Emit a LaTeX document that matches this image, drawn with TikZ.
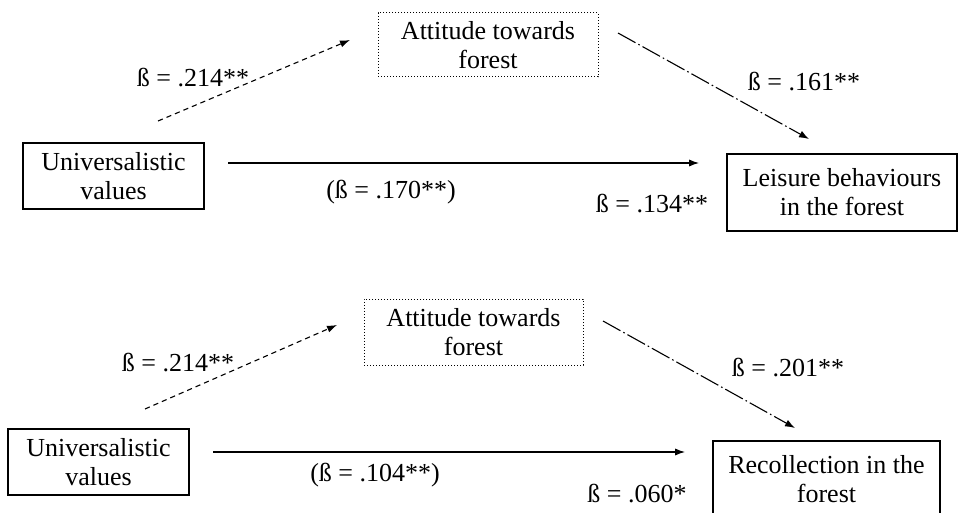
\documentclass[tikz,border=0pt]{standalone}
\usepackage{fontspec}
\setmainfont{Liberation Serif}
\usetikzlibrary{arrows.meta}

\tikzset{
  boite/.style={draw, line width=0.65pt, align=center, inner sep=0pt,
    font=\fontsize{13pt}{14.5pt}\selectfont},
  mediateur/.style={boite, line width=0.5pt, dash pattern=on 0.6pt off 0.9pt},
  coef/.style={inner sep=0pt, font=\fontsize{13pt}{15pt}\selectfont},
  fleche/.style={-{Latex[length=5pt,width=3.6pt]}, line width=0.55pt},
  indirect/.style={fleche, dash pattern=on 2.6pt off 2pt},
  effet/.style={fleche, dash pattern=on 10pt off 1.6pt on 0.8pt off 1.6pt},
}

\begin{document}
\begin{tikzpicture}[x=0.5pt,y=-0.5pt]

% Cadre
\clip (0,0) rectangle (958,513);
\fill[white] (0,0) rectangle (958,513);

% Modele 1 : boites
\node[boite, minimum width=90.5pt, minimum height=33pt] (univA) at (113.5,176) {Universalistic\\values};
\node[mediateur, minimum width=110pt, minimum height=32pt] (attA) at (488,45) {Attitude towards\\forest};
\node[boite, minimum width=115pt, minimum height=38.5pt] (loisA) at (842,192.5) {Leisure behaviours\\in the forest};

% Modele 1 : fleches
\coordinate (dA1) at (158,121);
\coordinate (dA2) at (350,40);
\coordinate (hA1) at (228,163);
\coordinate (hA2) at (699,163);
\coordinate (eA1) at (618,33);
\coordinate (eA2) at (809,139);
\draw[indirect] (dA1) -- (dA2);
\draw[fleche] (hA1) -- (hA2);
\draw[effet] (eA1) -- (eA2);

% Modele 1 : coefficients
\node[coef] (bA1) at (193,78) {ß = .214**};
\node[coef] (bA2) at (391,192) {(ß = .170**)};
\node[coef] (bA3) at (804,82) {ß = .161**};
\node[coef] (bA4) at (652,204) {ß = .134**};

% Modele 2 : boites
\node[boite, minimum width=90.5pt, minimum height=33pt] (univB) at (98.5,462) {Universalistic\\values};
\node[mediateur, minimum width=109.5pt, minimum height=33pt] (attB) at (473.5,332) {Attitude towards\\forest};
\node[boite, minimum width=113.5pt, minimum height=38.5pt] (souvB) at (826.5,479.5) {Recollection in the\\forest};

% Modele 2 : fleches
\coordinate (dB1) at (145,409);
\coordinate (dB2) at (337,325);
\coordinate (hB1) at (213,452);
\coordinate (hB2) at (685,452);
\coordinate (eB1) at (603,321);
\coordinate (eB2) at (795,428);
\draw[indirect] (dB1) -- (dB2);
\draw[fleche] (hB1) -- (hB2);
\draw[effet] (eB1) -- (eB2);

% Modele 2 : coefficients
\node[coef] (bB1) at (178,363) {ß = .214**};
\node[coef] (bB2) at (375,475) {(ß = .104**)};
\node[coef] (bB3) at (788,368) {ß = .201**};
\node[coef] (bB4) at (637,494) {ß = .060*};

\end{tikzpicture}
\end{document}
